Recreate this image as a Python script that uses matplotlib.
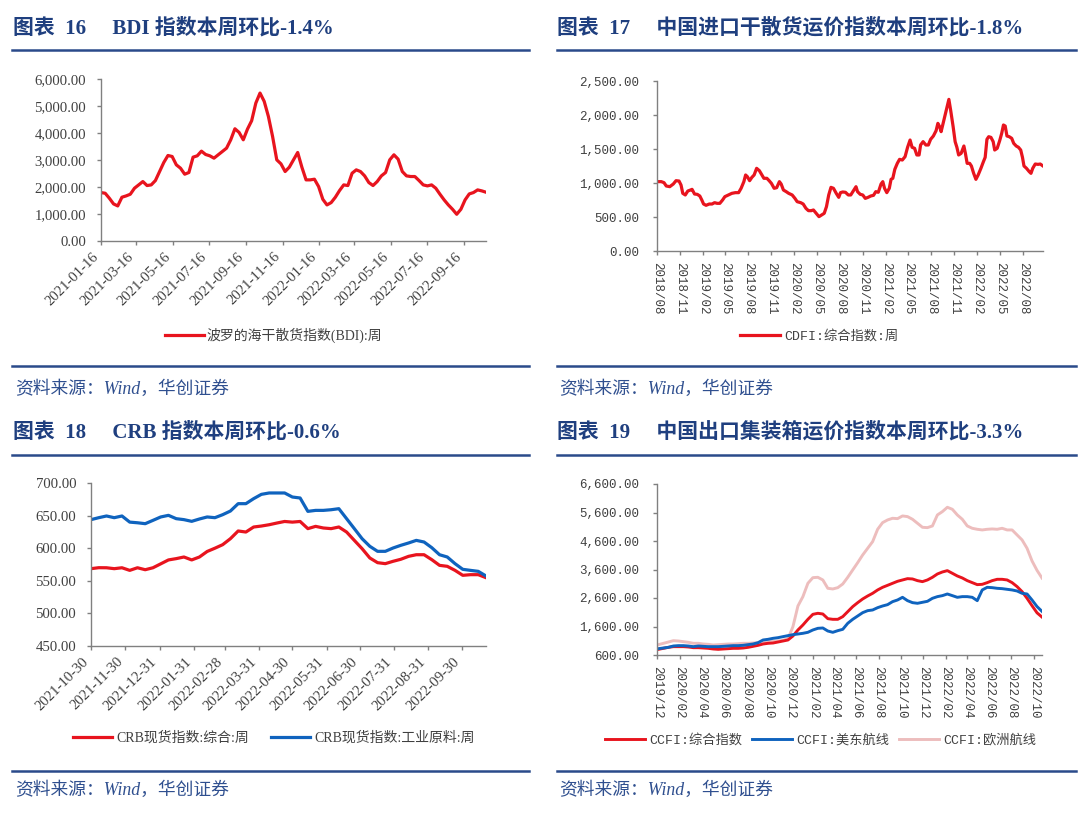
import numpy as np
import pandas as pd
import matplotlib
matplotlib.use('Agg')
import matplotlib.pyplot as plt
import matplotlib.dates as mdates
from matplotlib.lines import Line2D

# ---- data ----
# 图表16 BDI, weekly from 2021-01-16
bdi = [1794, 1769, 1583, 1373, 1299, 1621, 1670, 1732, 1955, 2078,
       2202, 2054, 2078, 2239, 2573, 2907, 3167, 3130, 2821, 2697,
       2474, 2536, 3105, 3155, 3328, 3204, 3155, 3068, 3192, 3315,
       3439, 3748, 4157, 4021, 3748, 4144, 4454, 5109, 5480, 5171,
       4614, 3872, 3006, 2858, 2573, 2734, 3006, 3278, 2734, 2264,
       2264, 2289, 2016, 1546, 1336, 1423, 1621, 1868, 2078, 2054,
       2511, 2635, 2573, 2412, 2165, 2054, 2202, 2412, 2536, 3006,
       3192, 3031, 2573, 2412, 2388, 2388, 2239, 2078, 2041, 2078,
       1955, 1732, 1522, 1336, 1175, 990, 1175, 1522, 1744, 1794,
       1893, 1856, 1806]
bdi_ticks = ['2021-01-16', '2021-03-16', '2021-05-16', '2021-07-16', '2021-09-16',
             '2021-11-16', '2022-01-16', '2022-03-16', '2022-05-16', '2022-07-16',
             '2022-09-16']

# 图表17 CDFI: days after 2018-08-01 and value
cdfi_day = [0, 17, 28, 37, 51, 65, 76, 88, 96, 103, 113, 123, 134, 140, 150, 161, 171, 179,
            186, 196, 209, 220, 230, 240, 251, 262, 271, 285, 299, 313, 326, 336, 347, 354,
            361, 370, 379, 388, 398, 409, 419, 427, 439, 448, 457, 468, 478, 489, 496, 505,
            516, 526, 540, 551, 560, 574, 584, 595, 605, 616, 625, 636, 647, 657, 668, 677,
            686, 695, 705, 716, 726, 733, 742, 753, 764, 774, 785, 795, 801, 812, 822, 832,
            843, 854, 865, 874, 884, 895, 902, 909, 918, 928, 935, 942, 950, 960, 969, 980,
            991, 1001, 1011, 1019, 1029, 1038, 1047, 1053, 1063, 1074, 1084, 1093, 1104,
            1115, 1122, 1129, 1135, 1143, 1153, 1159, 1166, 1173, 1183, 1191, 1198, 1205,
            1215, 1226, 1232, 1239, 1249, 1256, 1265, 1274, 1283, 1294, 1304, 1311, 1318,
            1325, 1334, 1343, 1349, 1359, 1369, 1377, 1384, 1391, 1398, 1407, 1417, 1425,
            1435, 1444, 1453, 1460, 1466, 1476, 1487, 1494, 1501, 1511, 1522, 1531, 1542]
cdfi = [1020, 1020, 1005, 956, 946, 985, 1034, 1029, 970, 848, 824, 882, 897, 907, 838, 833,
        809, 750, 691, 672, 691, 691, 711, 701, 701, 750, 799, 824, 848, 858, 858, 922, 1020,
        1118, 1093, 1034, 1083, 1118, 1216, 1181, 1118, 1069, 1069, 1034, 995, 922, 931,
        1020, 985, 897, 873, 848, 824, 774, 725, 711, 691, 627, 593, 593, 603, 554, 505, 529,
        554, 652, 824, 936, 922, 848, 789, 858, 868, 863, 824, 824, 887, 946, 873, 833, 824,
        774, 789, 809, 819, 873, 863, 985, 1020, 922, 858, 922, 1054, 1069, 1201, 1289, 1348,
        1338, 1387, 1525, 1632, 1525, 1510, 1412, 1412, 1559, 1608, 1559, 1559, 1642, 1691,
        1770, 1877, 1828, 1755, 1877, 2024, 2122, 2230, 2073, 1828, 1608, 1525, 1412, 1436,
        1544, 1436, 1289, 1289, 1250, 1142, 1054, 1118, 1216, 1314, 1377, 1642, 1681, 1671,
        1608, 1485, 1510, 1623, 1730, 1853, 1838, 1691, 1681, 1657, 1583, 1544, 1525, 1485,
        1377, 1250, 1216, 1167, 1142, 1216, 1279, 1274, 1279, 1250]

# 图表18 CRB, weekly from 2021-10-30
crb_all = [568.6, 570.1, 570.0, 568.6, 570.0, 566.0, 570.0, 567.0, 570.0, 576.0,
           582.0, 584.0, 586.5, 582.0, 586.5, 595.0, 600.0, 605.4, 614.6, 626.4,
           624.8, 632.5, 634.0, 636.0, 638.6, 641.0, 640.0, 641.0, 630.0, 633.5,
           631.0, 630.0, 632.5, 624.8, 612.0, 599.3, 585.0, 577.8, 576.3, 579.9,
           583.0, 587.5, 590.0, 590.0, 582.4, 573.7, 572.2, 566.0, 558.4, 559.4,
           559.4, 554.8]
crb_ind = [643.8, 646.8, 649.4, 646.8, 649.4, 640.0, 639.0, 637.6, 642.7, 647.9,
           650.4, 645.3, 643.8, 641.2, 644.8, 647.9, 646.8, 651.4, 657.0, 668.3,
           668.3, 676.0, 682.6, 684.7, 684.7, 684.7, 678.5, 677.0, 656.5, 658.0,
           658.0, 659.0, 660.6, 645.3, 630.0, 614.6, 602.9, 595.2, 595.2, 600.3,
           604.4, 608.0, 612.0, 609.5, 600.8, 590.0, 586.5, 576.3, 567.6, 566.0,
           564.5, 557.4]
crb_ticks = ['2021-10-30', '2021-11-30', '2021-12-31', '2022-01-31', '2022-02-28',
             '2022-03-31', '2022-04-30', '2022-05-31', '2022-06-30', '2022-07-31',
             '2022-08-31', '2022-09-30']

# 图表19 CCFI, roughly two-weekly from 2019-12 to 2022-10
ccfi_all = [799, 834, 869, 893, 893, 893, 881, 857, 857, 846,
            834, 811, 799, 811, 822, 834, 834, 846, 869, 904,
            939, 986, 1010, 1021, 1056, 1091, 1127, 1267, 1478, 1653,
            1852, 2027, 2063, 2039, 1875, 1852, 1852, 1946, 2121, 2297,
            2437, 2566, 2671, 2765, 2882, 2975, 3045, 3116, 3186, 3233,
            3279, 3268, 3209, 3174, 3233, 3326, 3443, 3513, 3560, 3467,
            3373, 3303, 3209, 3139, 3069, 3080, 3139, 3209, 3256, 3256,
            3233, 3139, 2999, 2823, 2589, 2330, 2080, 1930]
ccfi_us = [822, 846, 869, 916, 928, 928, 916, 893, 916, 904,
           893, 893, 893, 904, 916, 928, 928, 939, 963, 986,
           1033, 1127, 1150, 1185, 1208, 1244, 1279, 1314, 1337, 1361,
           1396, 1478, 1536, 1548, 1442, 1396, 1454, 1501, 1712, 1852,
           1969, 2086, 2156, 2180, 2261, 2320, 2367, 2472, 2531, 2624,
           2507, 2437, 2414, 2449, 2484, 2589, 2648, 2683, 2741, 2683,
           2624, 2648, 2648, 2624, 2507, 2882, 2975, 2963, 2940, 2928,
           2905, 2882, 2846, 2765, 2741, 2530, 2300, 2130]
ccfi_eu = [963, 1010, 1056, 1103, 1091, 1068, 1045, 1010, 1010, 986,
           974, 951, 963, 974, 986, 986, 998, 1010, 1010, 1021,
           1033, 1056, 1068, 1080, 1091, 1115, 1173, 1595, 2320, 2648,
           3116, 3314, 3326, 3233, 2940, 2917, 2963, 3092, 3326, 3584,
           3841, 4110, 4344, 4578, 5011, 5245, 5339, 5397, 5385, 5479,
           5456, 5362, 5222, 5081, 5069, 5128, 5514, 5631, 5783, 5713,
           5514, 5362, 5128, 5046, 5011, 4988, 5011, 5023, 5011, 5046,
           4988, 4988, 4812, 4637, 4344, 3900, 3570, 3300]

titles = ['图表  16     BDI 指数本周环比-1.4%',
          '图表  17     中国进口干散货运价指数本周环比-1.8%',
          '图表  18     CRB 指数本周环比-0.6%',
          '图表  19     中国出口集装箱运价指数本周环比-3.3%']
source = '资料来源：Wind，华创证券'

# ---- style ----
RED = '#E8141E'
BLUE = '#0F63BE'
PINK = '#EDBDBD'
NAVY = '#1F3F7F'
AXC = '#808080'
TXT = '#404040'
SERIF = ['Liberation Serif', 'Noto Sans CJK SC']
MONO = ['Liberation Mono', 'Noto Sans CJK SC']
plt.rcParams['font.family'] = SERIF

W, H = 1080, 815
fig = plt.figure(figsize=(10.8, 8.15), dpi=100)


def box(x0, x1, ytop, ybot):
    return [x0 / W, 1 - ybot / H, (x1 - x0) / W, (ybot - ytop) / H]


def style(ax, ypad):
    for s in ['top', 'right']:
        ax.spines[s].set_visible(False)
    for s in ['left', 'bottom']:
        ax.spines[s].set_color(AXC)
        ax.spines[s].set_linewidth(1)
    ax.tick_params(axis='both', colors=AXC, length=2.6, width=1, labelcolor=TXT)
    ax.tick_params(axis='y', pad=ypad)


def hline(x0, x1, y):
    fig.add_artist(Line2D([x0 / W, x1 / W], [1 - y / H, 1 - y / H],
                          transform=fig.transFigure, color='#2A4A8A', lw=1.8))


# headers / footers
for i, (tx, ty) in enumerate([(13, 28), (557, 28), (13, 432), (557, 432)]):
    fig.text(tx / W, 1 - ty / H, titles[i], fontsize=15, weight='bold', color=NAVY,
             va='center', ha='left', family=SERIF)
for y in [50, 455]:
    hline(12, 529, y)
    hline(557, 1076, y)
for y in [366, 771]:
    hline(12, 529, y)
    hline(557, 1076, y)
for sx, sy in [(15, 389), (559, 389), (15, 790), (559, 790)]:
    fig.text(sx / W, 1 - sy / H, source, fontsize=12.8, style='italic', color='#2F4F8F',
             va='center', ha='left', family=SERIF)

# ---- panel 16: BDI ----
ax1 = fig.add_axes(box(101, 486, 79, 241))
d1 = pd.date_range('2021-01-16', periods=len(bdi), freq='7D')
ax1.plot(d1, bdi, color=RED, lw=2.3, label='波罗的海干散货指数(BDI):周')
ax1.set_ylim(0, 6000)
ax1.set_xlim(d1[0], d1[-1])
yt = np.arange(0, 6001, 1000)
ax1.set_yticks(yt)
ax1.set_yticklabels([f'{v:,.2f}' for v in yt], fontsize=10.6, family=SERIF)
ax1.set_xticks(pd.to_datetime(bdi_ticks))
ax1.set_xticklabels(bdi_ticks, rotation=45, ha='right', fontsize=10.6, family=SERIF)
style(ax1, 8)
ax1.tick_params(axis='x', pad=4)
ax1.legend(loc='center', bbox_to_anchor=(0.449, -0.58), frameon=False,
           prop={'family': SERIF, 'size': 10}, handlelength=2.8, handletextpad=0.2,
           labelcolor=TXT)

# ---- panel 17: CDFI ----
ax2 = fig.add_axes(box(657, 1043, 81, 251))
d2 = pd.Timestamp('2018-08-01') + pd.to_timedelta(cdfi_day, unit='D')
ax2.plot(d2, cdfi, color=RED, lw=2.3, label='CDFI:综合指数:周')
ax2.set_ylim(0, 2500)
ax2.set_xlim(d2[0], d2[-1])
yt = np.arange(0, 2501, 500)
ax2.set_yticks(yt)
ax2.set_yticklabels([f'{v:,.2f}' for v in yt], fontsize=9, family=MONO)
xt = pd.date_range('2018-08-01', '2022-08-01', freq='3MS')
ax2.set_xticks(xt)
ax2.set_xticklabels([t.strftime('%Y/%m') for t in xt], rotation=270, ha='center',
                    va='top', fontsize=9, family=MONO)
style(ax2, 10)
ax2.tick_params(axis='x', pad=5)
ax2.legend(loc='center', bbox_to_anchor=(0.42, -0.5), frameon=False,
           prop={'family': MONO, 'size': 9.5}, handlelength=3.0, handletextpad=0.3,
           labelcolor=TXT)

# ---- panel 18: CRB ----
ax3 = fig.add_axes(box(91, 486, 483, 646))
d3 = pd.date_range('2021-10-30', periods=len(crb_all), freq='7D')
ax3.plot(d3, crb_all, color=RED, lw=2.3, label='CRB现货指数:综合:周')
ax3.plot(d3, crb_ind, color=BLUE, lw=2.3, label='CRB现货指数:工业原料:周')
ax3.set_ylim(450, 700)
ax3.set_xlim(d3[0], d3[-1])
yt = np.arange(450, 701, 50)
ax3.set_yticks(yt)
ax3.set_yticklabels([f'{v:,.2f}' for v in yt], fontsize=10.6, family=SERIF)
ax3.set_xticks(pd.to_datetime(crb_ticks))
ax3.set_xticklabels(crb_ticks, rotation=45, ha='right', fontsize=10.6, family=SERIF)
style(ax3, 8)
ax3.tick_params(axis='x', pad=4)
ax3.legend(loc='center', bbox_to_anchor=(0.463, -0.566), frameon=False, ncol=2,
           prop={'family': SERIF, 'size': 10}, handlelength=2.8, handletextpad=0.3,
           columnspacing=1.6, labelcolor=TXT)

# ---- panel 19: CCFI ----
ax4 = fig.add_axes(box(657, 1042, 484, 655))
d4 = pd.date_range('2019-12-05', '2022-10-24', periods=len(ccfi_all))
l_eu, = ax4.plot(d4, ccfi_eu, color=PINK, lw=2.1, label='CCFI:欧洲航线')
l_all, = ax4.plot(d4, ccfi_all, color=RED, lw=2.1, label='CCFI:综合指数')
l_us, = ax4.plot(d4, ccfi_us, color=BLUE, lw=2.1, label='CCFI:美东航线')
ax4.set_ylim(600, 6600)
ax4.set_xlim(pd.Timestamp('2019-12-01'), pd.Timestamp('2022-10-24'))
yt = np.arange(600, 6601, 1000)
ax4.set_yticks(yt)
ax4.set_yticklabels([f'{v:,.2f}' for v in yt], fontsize=9, family=MONO)
xt = pd.date_range('2019-12-01', '2022-10-01', freq='2MS')
ax4.set_xticks(xt)
ax4.set_xticklabels([t.strftime('%Y/%m') for t in xt], rotation=270, ha='center',
                    va='top', fontsize=9, family=MONO)
style(ax4, 10)
ax4.tick_params(axis='x', pad=5)
ax4.legend(handles=[l_all, l_us, l_eu], loc='center', bbox_to_anchor=(0.425, -0.497),
           frameon=False, ncol=3, prop={'family': MONO, 'size': 9.5}, handlelength=3.0,
           handletextpad=0.3, columnspacing=0.8, labelcolor=TXT)

fig.savefig('out.png', dpi=100)
